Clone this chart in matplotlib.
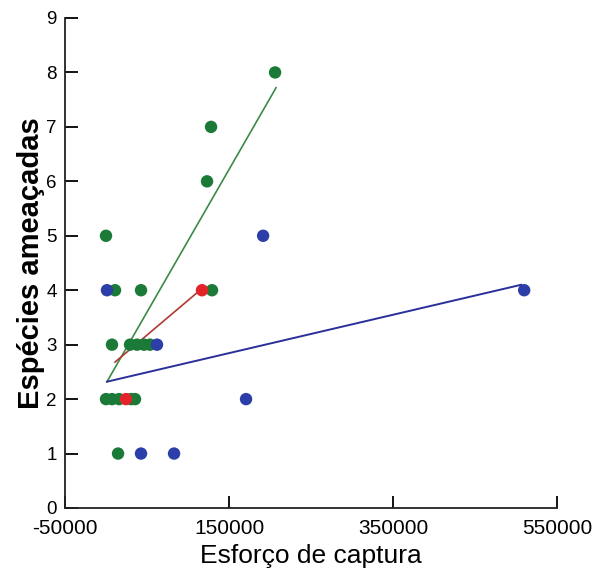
import numpy as np
import matplotlib
matplotlib.use("Agg")
from matplotlib import pyplot as plt

plt.rcParams['font.family'] = ['Liberation Sans', 'DejaVu Sans']

# data (esforco de captura vs especies ameacadas)
green_x = [0, 11000, 42700, 129300, 7300, 29300, 37800, 46400, 53700,
           0, 7300, 15900, 30500, 35400, 14700, 123200, 128100, 206200]
green_y = [5, 4, 4, 4, 3, 3, 3, 3, 3,
           2, 2, 2, 2, 2, 1, 6, 7, 8]

blue_x = [191600, 1200, 62200, 170800, 42700, 83000, 510000]
blue_y = [5, 4, 3, 2, 1, 1, 4]

red_x = [117100, 24400]
red_y = [4, 2]

# fitted lines (end points)
green_line_x = [1200, 207400]
green_line_y = [2.32, 7.72]
blue_line_x = [1200, 506300]
blue_line_y = [2.32, 4.10]
red_line_x = [11000, 114700]
red_line_y = [2.68, 4.0]

x_ticks = [-50000, 150000, 350000, 550000]
y_ticks = list(range(0, 10))

green = '#1b7a37'
blue = '#2c3fa8'
red = '#e0242a'

fig = plt.figure(figsize=(5.96, 5.77), dpi=100)
ax = fig.add_axes([65/596, 1 - 508/577, (557 - 65)/596, (508 - 18)/577])

ax.plot(green_line_x, green_line_y, color='#3a8a48', lw=1.2, zorder=2)
ax.plot(blue_line_x, blue_line_y, color='#2a2f9a', lw=1.4, zorder=2)
ax.plot(red_line_x, red_line_y, color='#b03a30', lw=1.2, zorder=2)

ax.scatter(green_x, green_y, s=80, color=green, edgecolors='none', zorder=3)
ax.scatter(blue_x, blue_y, s=80, color=blue, edgecolors='none', zorder=4)
ax.scatter(red_x, red_y, s=80, color=red, edgecolors='none', zorder=5)

ax.set_xlim(-50000, 550000)
ax.set_ylim(0, 9)
ax.set_xticks(x_ticks)
ax.set_xticklabels([str(t) for t in x_ticks])
ax.set_yticks(y_ticks)

for s in ['top', 'right']:
    ax.spines[s].set_visible(False)
for s in ['left', 'bottom']:
    ax.spines[s].set_linewidth(1.3)
    ax.spines[s].set_color('#222222')

ax.tick_params(axis='x', direction='in', length=9, width=1.3, labelsize=15, pad=8)
ax.tick_params(axis='y', direction='in', length=9, width=1.3, labelsize=13.5, pad=6)

ax.set_xlabel('Esforço de captura', fontsize=19, labelpad=4)
ax.set_ylabel('Espécies ameaçadas', fontsize=21, fontweight='bold', labelpad=1)

fig.savefig('out.png', dpi=100)
